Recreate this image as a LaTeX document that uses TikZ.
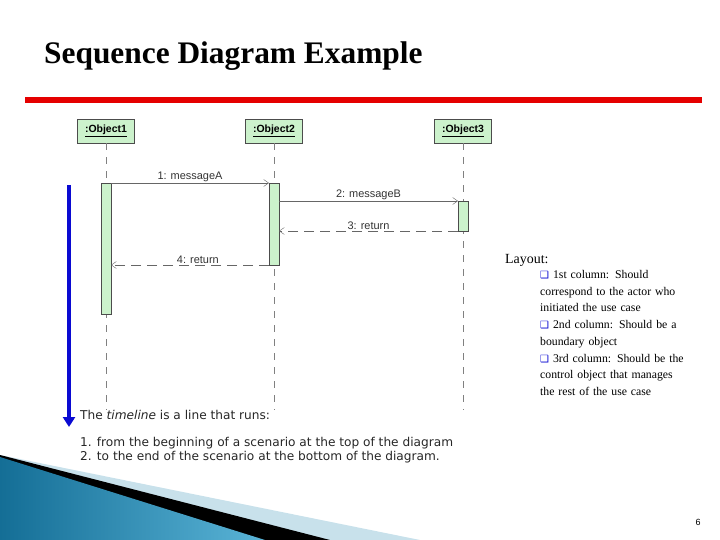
\documentclass[tikz,border=0pt]{standalone}
\usepackage{fontspec}
\setmainfont{Liberation Serif}
\newfontfamily\dv{DejaVu Sans}
\newfontfamily\ar{Liberation Sans}
\usetikzlibrary{arrows.meta}
\definecolor{actfill}{RGB}{204,242,204}
\definecolor{tlblue}{RGB}{10,10,210}
\definecolor{teal1}{RGB}{20,110,150}
\definecolor{teal2}{RGB}{90,180,215}
\definecolor{lightsw}{RGB}{200,225,235}
\tikzset{
 obj/.style={draw=black!70,fill=actfill,minimum width=57bp,minimum height=24bp,inner sep=0pt,font=\ar\bfseries\fontsize{10.5}{11}\selectfont},
 act/.style={draw=black!70,fill=actfill},
 life/.style={draw=black!50,dash pattern=on 7bp off 7bp},
 msg/.style={draw=black!60,-{Straight Barb[length=5bp,width=7bp]}},
 ret/.style={draw=black!60,dash pattern=on 10bp off 6bp,-{Straight Barb[length=5bp,width=7bp]}},
 mlab/.style={font=\ar\fontsize{11}{12}\selectfont,text=black!80,inner sep=1pt},
 note/.style={font=\dv\fontsize{12.2}{13}\selectfont,anchor=west,inner sep=0pt,text=black!85},
 lay/.style={font=\fontsize{11.8}{16.8}\selectfont,anchor=north west,align=left,inner sep=0pt,text width=145bp}
}
\begin{document}
\begin{tikzpicture}[x=1bp,y=-1bp]
\useasboundingbox (0,0) rectangle (720,540);
\node[anchor=west,font=\bfseries\fontsize{31.5}{34}\selectfont,inner sep=0pt] (title) at (44,56) {Sequence Diagram Example};
\draw[red!90!black,line width=6bp] (25,100) -- (702,100);
% objects
\node[obj] (o1) at (106,131) {\underline{:Object1}};
\node[obj] (o2) at (274,131) {\underline{:Object2}};
\node[obj] (o3) at (463,131) {\underline{:Object3}};
\coordinate (e1) at (106,410); \coordinate (e2) at (274,410); \coordinate (e3) at (463,410);
\draw[life] (o1.south) -- (e1);
\draw[life] (o2.south) -- (e2);
\draw[life] (o3.south) -- (e3);
\filldraw[act] (101,183) rectangle (111,314);
\filldraw[act] (269,183) rectangle (279,265);
\filldraw[act] (458,201) rectangle (468,231);
\coordinate (a1) at (111,183); \coordinate (b1) at (269,183);
\coordinate (a2) at (279,201); \coordinate (b2) at (458,201);
\coordinate (a3) at (458,231); \coordinate (b3) at (279,231);
\coordinate (a4) at (269,265); \coordinate (b4) at (111,265);
\draw[msg] (a1) -- node[mlab,above] {1: messageA} (b1);
\draw[msg] (a2) -- node[mlab,above] {2: messageB} (b2);
\draw[ret] (a3) -- node[mlab,above] {3: return} (b3);
\draw[ret] (a4) -- node[mlab,above,pos=0.45] {4: return} (b4);
% timeline
\coordinate (t0) at (69,185); \coordinate (t1) at (69,427);
\draw[tlblue,line width=3.5bp,-{Triangle[length=10bp,width=12bp]}] (t0) -- (t1);
\node[note] (n0) at (80,415) {The \textit{timeline} is a line that runs:};
\node[note] (n1) at (80,443) {1. from the beginning of a scenario at the top of the diagram};
\node[note] (n2) at (80,457) {2. to the end of the scenario at the bottom of the diagram.};
% layout text
\node[anchor=west,font=\fontsize{14}{15}\selectfont,inner sep=0pt] (lt) at (505,260) {Layout:};
\node[lay] (lb) at (540,270) {\raggedright\hyphenpenalty=10000 {\dv\color{tlblue}\fontsize{10}{10}\selectfont ❑} 1st column: Should correspond to the actor who initiated the use case\\
{\dv\color{tlblue}\fontsize{10}{10}\selectfont ❑} 2nd column: Should be a boundary object\\
{\dv\color{tlblue}\fontsize{10}{10}\selectfont ❑} 3rd column: Should be the control object that manages the rest of the use case};
% swoosh
\fill[lightsw] (0,455) -- (420,540) -- (0,540) -- cycle;
\fill[black] (0,455) -- (330,540) -- (0,540) -- cycle;
\shade[left color=teal1,right color=teal2] (0,457) -- (265,540) -- (0,540) -- cycle;
\node[font=\ar\fontsize{9}{10}\selectfont] (pg) at (698,522) {6};
\end{tikzpicture}
\end{document}
